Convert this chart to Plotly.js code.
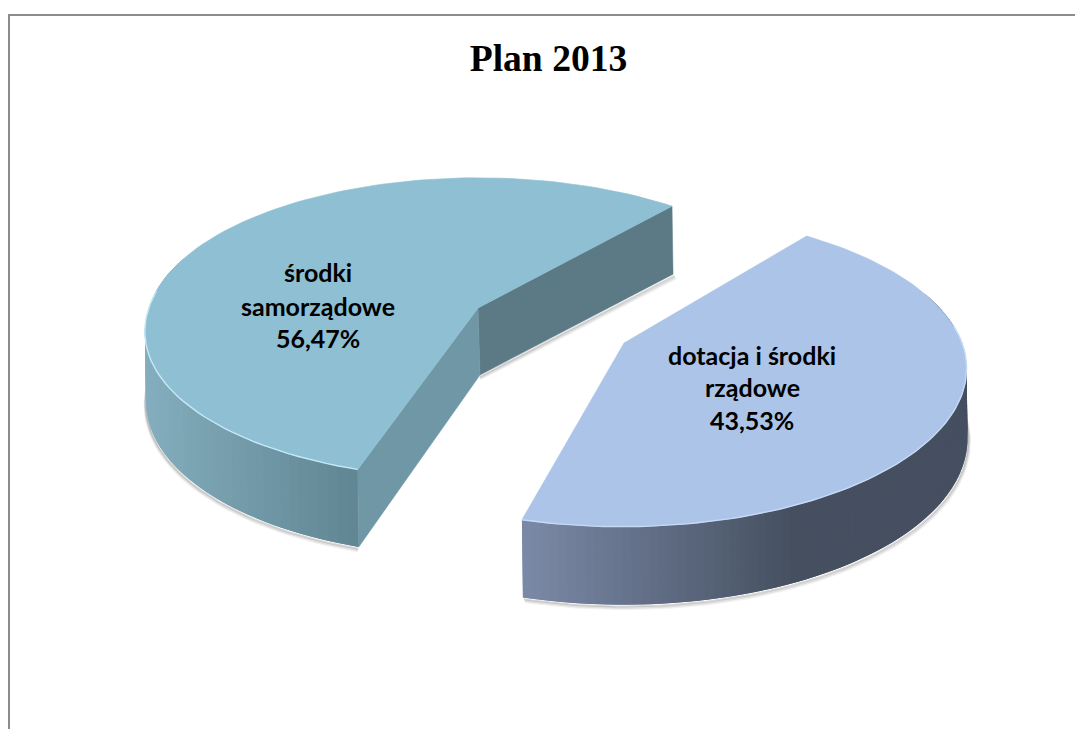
<!DOCTYPE html>
<html>
<head>
<meta charset="utf-8">
<script src="https://cdn.plot.ly/plotly-3.0.1.min.js"></script>
<style>html,body{margin:0;padding:0;background:#fff}</style>
</head>
<body>
<div id="chart" style="width:1075px;height:729px"></div>
<script>
const chartTitle = "Plan 2013";
const labelLines = [["środki", "samorządowe"], ["dotacja i środki", "rządowe"]];
const values = [56.47, 43.53];
const valueTexts = ["56,47%", "43,53%"];
const topColors = ["#8fbfd2", "#abc4e8"];
const rimColors = ["#c4e8f6", "#c6daf5"];
const wallStops = [
  [[146, [132,174,190]], [358, [97,134,147]]],
  [[522, [122,137,166]], [790, [69,79,96]], [965, [69,79,96]]]
];
const nearFace = "#7097a6";
const farFace = "#5c7a86";

// projection of each exploded slice onto the page
const slices = [
  {ax: 478, ay: 308, R: 329, S: 147.5, k: 0.133, sh: 8, start: 49.5, dir: 1, lx: 318, ly: [272, 306, 338]},
  {ax: 624, ay: 343, R: 338, S: 153, k: 0.167, sh: 1.5, start: 52.3, dir: -1, lx: 752, ly: [355, 387, 420]}
];

function rad(d){return d*Math.PI/180;}
function topPt(s, deg){
  const u = Math.cos(rad(deg)), v = Math.sin(rad(deg)), w = 1 + s.k*v;
  return [s.ax + s.R*u/w + s.sh*Math.min(0, v)/w, s.ay - s.S*v/w, v];
}
function botPt(s, deg){
  const p = topPt(s, deg);
  return [p[0] + 1, p[1] + 68 - 10*Math.min(0, p[2])];
}
function mix(stops, x){
  if (x <= stops[0][0]) return stops[0][1];
  for (let i = 1; i < stops.length; i++){
    if (x <= stops[i][0]){
      const t = (x - stops[i-1][0])/(stops[i][0] - stops[i-1][0]);
      return stops[i-1][1].map((c,k)=>Math.round(c + t*(stops[i][1][k]-c)));
    }
  }
  return stops[stops.length-1][1];
}
function poly(pts, color, lineWidth){
  const xs = pts.map(p=>p[0]), ys = pts.map(p=>p[1]);
  xs.push(xs[0]); ys.push(ys[0]);
  return {x: xs, y: ys, type:"scatter", mode:"lines", fill:"toself", fillcolor: color,
          line:{color: color, width: lineWidth}, hoverinfo:"skip", showlegend:false};
}
function strokeLine(pts, color, width){
  return {x: pts.map(p=>p[0]), y: pts.map(p=>p[1]), type:"scatter", mode:"lines",
          line:{color: color, width: width, shape:"linear"}, hoverinfo:"skip", showlegend:false};
}
const shadowLayers = [[4,"rgba(0,0,0,0.05)",3],[3,"rgba(0,0,0,0.08)",2.5],[1.8,"rgba(0,0,0,0.14)",2]];

const traces = [];
const annotations = [];
values.forEach((val, i) => {
  const s = slices[i];
  const sweep = val/100*360*s.dir;
  const end = s.start + sweep;
  const n = 120;
  const angles = [];
  for (let k = 0; k <= n; k++) angles.push(s.start + sweep*k/n);
  const apex = [s.ax, s.ay];
  const apexB = [s.ax + 2, s.ay + 67];

  // soft contact shadow under the lower rim and under the far cut face
  const front = angles.filter(a => topPt(s,a)[2] < 0.12);
  shadowLayers.forEach(o => {
    let edge = front.map(a => { const b = botPt(s,a); return [b[0] + (i ? o[0]*0.5 : -o[0]*0.2), b[1]+o[0]]; });
    traces.push(strokeLine(edge, o[1], o[2]));
    if (s.dir > 0){
      const b = botPt(s, s.start);
      traces.push(strokeLine([[apexB[0], apexB[1]+o[0]], [b[0]+o[0]*0.7, b[1]+o[0]]], o[1], o[2]));
    }
  });

  // outer wall: overlapping strips so no seams show between them
  for (let k = 0; k < n; k++){
    const a0 = angles[k], a1 = angles[Math.min(k+2, n)];
    const p0 = topPt(s,a0), p1 = topPt(s,a1), b0 = botPt(s,a0), b1 = botPt(s,a1);
    if (p0[2] > 0.3 && p1[2] > 0.3) continue;
    const c = mix(wallStops[i], (p0[0]+p1[0])/2);
    traces.push(poly([p0, p1, b1, b0], "rgb("+c.join(",")+")", 0));
  }

  // cut faces (only the larger slice shows them)
  if (s.dir > 0){
    traces.push(poly([apex, topPt(s,s.start), botPt(s,s.start), apexB], farFace, 0.5));
    traces.push(poly([apex, topPt(s,end), botPt(s,end), apexB], nearFace, 0.5));
  }

  // top surface
  const outline = [apex].concat(angles.map(a => topPt(s,a)));
  traces.push(poly(outline, topColors[i], 0.6));

  // light rim along the front edge
  const rim = angles.filter(a => topPt(s,a)[2] < 0.12).map(a => topPt(s,a));
  traces.push(strokeLine(rim, rimColors[i], 1.4));

  // labels
  const lines = labelLines[i].concat([valueTexts[i]]);
  lines.forEach((t, j) => annotations.push({
    x: s.lx, y: s.ly[j], xref:"x", yref:"y", text: t, showarrow:false,
    xanchor:"center", yanchor:"middle",
    font:{family:"Lato, 'Open Sans', sans-serif", size:25, color:"#000", weight:700}
  }));
});

const layout = {
  width: 1075, height: 729,
  margin: {l:0, r:0, t:0, b:0},
  paper_bgcolor: "#fff", plot_bgcolor: "#fff",
  showlegend: false,
  title: {text: "<b>"+chartTitle+"</b>", x: 548.5/1075, xref:"paper", y: 1-58/729, yref:"paper",
          xanchor:"center", yanchor:"middle",
          font:{family:"'Liberation Serif', serif", size:37.6, color:"#000"}},
  xaxis: {range:[0,1075], visible:false, fixedrange:true},
  yaxis: {range:[729,0], visible:false, fixedrange:true},
  annotations: annotations,
  shapes: [
    {type:"line", xref:"x", yref:"y", x0:9, x1:9, y0:15, y1:729, line:{color:"#8c8c8c", width:2}},
    {type:"line", xref:"x", yref:"y", x0:8, x1:1075, y0:15, y1:15, line:{color:"#8c8c8c", width:2}}
  ]
};
Plotly.newPlot("chart", traces, layout, {displayModeBar:false, staticPlot:true});
</script>
</body>
</html>
